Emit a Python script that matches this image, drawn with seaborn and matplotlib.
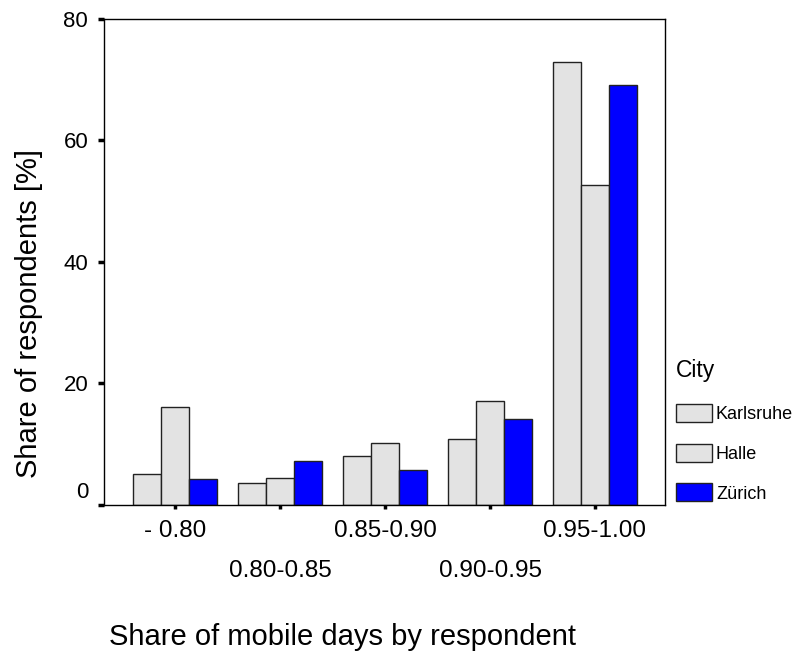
import matplotlib
matplotlib.use("Agg")
import matplotlib.pyplot as plt
import matplotlib.transforms as mtransforms
import seaborn as sns
import pandas as pd

# Share of respondents per class of mobile days, by city
categories = ["- 0.80", "0.80-0.85", "0.85-0.90", "0.90-0.95", "0.95-1.00"]
cities = ["Karlsruhe", "Halle", "Zürich"]
karlsruhe = [5.0, 3.5, 8.0, 10.8, 72.9]
halle = [16.1, 4.3, 10.1, 17.1, 52.6]
zurich = [4.15, 7.2, 5.7, 14.1, 69.1]
y_ticks = [0, 20, 40, 60, 80]

df = pd.DataFrame({
    "cat": categories * 3,
    "city": [c for c in cities for _ in categories],
    "share": karlsruhe + halle + zurich,
})

sns.set_theme(style="white")
plt.rcParams["font.family"] = ["Liberation Sans", "DejaVu Sans"]
for key in ["text.color", "axes.labelcolor", "xtick.color", "ytick.color"]:
    plt.rcParams[key] = "black"

fig = plt.figure(figsize=(8.08, 6.58), dpi=100)
ax = fig.add_axes([103.5 / 808, 1 - 504.5 / 658, 561.5 / 808, 485.5 / 658])

palette = {"Karlsruhe": "#e3e3e3", "Halle": "#e3e3e3", "Zürich": "#0000ff"}
sns.barplot(data=df, x="cat", y="share", hue="city", order=categories,
            hue_order=cities, palette=palette, width=0.80, gap=0,
            edgecolor="#222222", linewidth=1.0, saturation=1, ax=ax)

ax.set_xlim(-0.683, 4.667)
ax.set_ylim(0, 80)
ax.set_yticks(y_ticks)
ax.set_yticklabels([str(v) for v in y_ticks], fontsize=16)
ax.set_xticks(range(len(categories)))
ax.set_xticklabels(categories, fontsize=17.5)

for s in ax.spines.values():
    s.set_visible(True)
    s.set_color("black")
    s.set_linewidth(1.0)

ax.tick_params(axis="y", left=True, direction="out", length=4, width=2.5,
               color="black", pad=7)
ax.tick_params(axis="x", bottom=True, direction="out", length=3, width=2.5,
               color="black", pad=8)
for i, t in enumerate(ax.xaxis.get_major_ticks()):
    if i % 2 == 1:
        t.set_pad(37)

# the zero label sits a little above its tick
zero_lbl = ax.get_yticklabels()[0]
zero_lbl.set_transform(zero_lbl.get_transform()
                       + mtransforms.ScaledTranslation(0, 0.14, fig.dpi_scale_trans))

ax.set_ylabel("Share of respondents [%]", fontsize=21)
ax.yaxis.set_label_coords(-0.132, 0.394)
ax.yaxis.label.set_va("center")
ax.set_xlabel("Share of mobile days by respondent", fontsize=21)
ax.xaxis.set_label_coords(0.425, -0.273)
ax.xaxis.label.set_va("center")

leg = ax.legend(title="City", loc="lower left", bbox_to_anchor=(1.02, 0.004),
                frameon=False, fontsize=13, title_fontsize=16.5,
                handlelength=2.0, handleheight=1.15, labelspacing=1.15,
                handletextpad=0.2, borderaxespad=0.0, borderpad=0.0,
                alignment="left")
leg._legend_box.sep = 16
for h in leg.legend_handles:
    h.set_edgecolor("#222222")
    h.set_linewidth(1.0)

fig.savefig("out.png", dpi=100)
